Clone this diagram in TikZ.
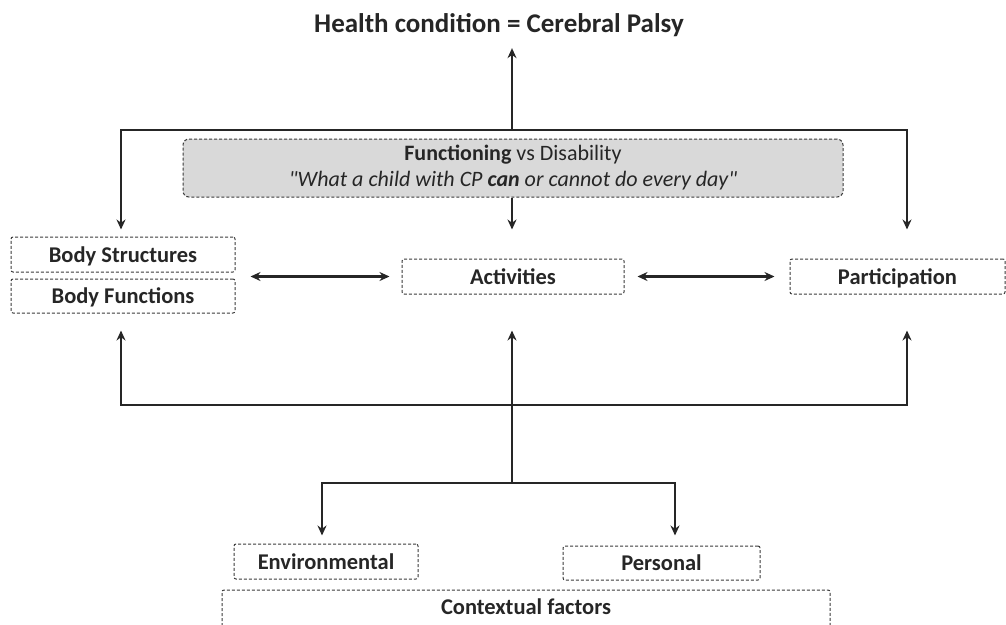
\documentclass[tikz,border=0pt]{standalone}
\usepackage{fontspec}
\setmainfont{Carlito}[Ligatures=TeXOff]
\usetikzlibrary{arrows.meta}
\definecolor{ln}{HTML}{262626}
\definecolor{tx}{HTML}{262626}
\definecolor{bd}{HTML}{3A3A3A}
\definecolor{gfill}{HTML}{D9D9D9}
\begin{document}
\begin{tikzpicture}[x=1pt,y=-1pt,
  dashbox/.style={draw=bd, dash pattern=on 3pt off 2pt, line width=1pt, rounded corners=2pt},
  box/.style={dashbox, inner sep=0pt, text=tx, text height=17pt, text depth=2pt, font=\fontsize{22.5}{24}\selectfont\bfseries},
  conn/.style={draw=ln, line width=2.6pt, line join=miter},
  arr/.style={conn, -{Stealth[length=10pt,width=9pt]}},
  darr/.style={conn, {Stealth[length=10pt,width=9pt]}-{Stealth[length=10pt,width=9pt]}}]
\useasboundingbox (0,0) rectangle (1006,624);

\node[text=tx, font=\fontsize{27}{30}\selectfont\bfseries] (title) at (499,25) {Health condition = Cerebral Palsy};

\node[dashbox, fill=gfill, rounded corners=6pt, minimum width=660pt, minimum height=58pt, inner sep=0pt,
      text=tx, align=center, font=\fontsize{22}{26}\selectfont] (func) at (513,168)
  {\textbf{Functioning} vs Disability\\ \textit{"What a child with CP \textbf{can} or cannot do every day"}};

\node[box, minimum width=224pt, minimum height=35pt] (bs) at (123,254.5) {Body Structures};
\node[box, minimum width=224pt, minimum height=34pt] (bf) at (123,296) {Body Functions};
\node[box, minimum width=222pt, minimum height=35pt] (act) at (513,276.5) {Activities};
\node[box, minimum width=215pt, minimum height=35pt] (par) at (897.5,276.5) {Participation};
\node[box, minimum width=184pt, minimum height=35pt] (env) at (326,561.5) {Environmental};
\node[box, minimum width=197pt, minimum height=34pt] (pers) at (661.5,563) {Personal};
\node[text=tx, inner sep=0pt, text height=17pt, text depth=2pt, font=\fontsize{22.5}{24}\selectfont\bfseries] (ctx) at (526,606.5) {Contextual factors};
\draw[dashbox] (222,626) |- (830,590) -- (830,626);

\coordinate (tj) at (512,130);
\coordinate (tl) at (121,130);
\coordinate (tr) at (907,130);
\coordinate (bj) at (512,405);
\coordinate (bl) at (121,405);
\coordinate (br) at (907,405);
\coordinate (cj) at (512,483);
\coordinate (cl) at (322,483);
\coordinate (cr) at (675,483);

% top
\draw[arr, shorten >=8pt] (tj) -- (tj |- title.south);
\draw[arr, shorten >=7pt] (tj) -- (tl) -- (tl |- bs.north);
\draw[arr, shorten >=29pt] (tj) -- (tr) -- (tr |- par.north);
\draw[arr, shorten >=29pt] (func.south -| tj) -- (tj |- act.north);

% horizontal double arrows
\draw[darr, shorten <=15pt, shorten >=12pt] (bs.east |- act.west) -- (act.west);
\draw[darr, shorten <=13pt, shorten >=15pt] (act.east) -- (par.west);

% bottom
\draw[arr, shorten >=17pt] (bj) -- (bl) -- (bl |- bf.south);
\draw[arr, shorten >=36pt] (bj) -- (br) -- (br |- par.south);
\draw[arr, shorten >=36pt] (cj) -- (cj |- act.south);
\draw[arr, shorten >=8pt] (cj) -- (cl) -- (cl |- env.north);
\draw[arr, shorten >=10pt] (cj) -- (cr) -- (cr |- pers.north);
\end{tikzpicture}
\end{document}
